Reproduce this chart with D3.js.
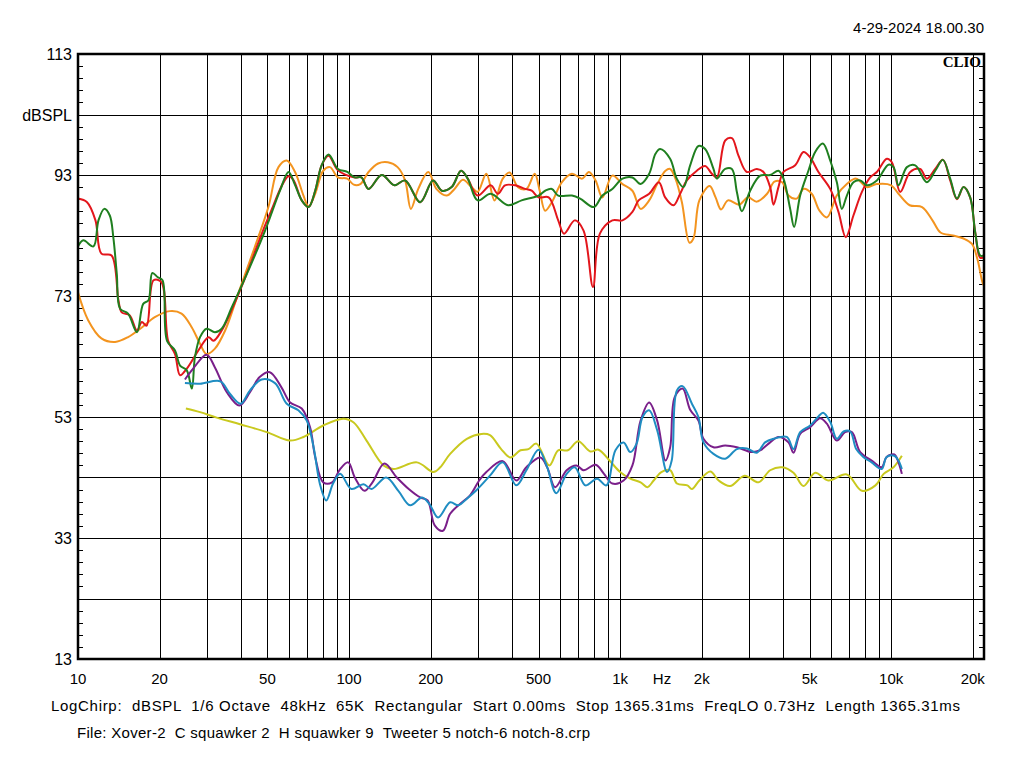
<!DOCTYPE html>
<html><head><meta charset="utf-8">
<script src="https://cdn.jsdelivr.net/npm/d3@7/dist/d3.min.js"></script>
<style>
html,body{margin:0;padding:0;background:#fff;}
svg{display:block;}
text{font-family:"Liberation Sans",Arial,sans-serif;fill:#000;}
</style></head>
<body>
<svg id="chart" width="1024" height="768"></svg>
<script>
// ---------- data ----------
const xTickValues = [10,20,50,100,200,500,1000,2000,5000,10000,20000];
const xTickLabels = ["10","20","50","100","200","500","1k","2k","5k","10k","20k"];
const yTickValues = [113,93,73,53,33,13];
const yUnitLabel = "dBSPL";
const dateText = "4-29-2024 18.00.30";
const brandText = "CLIO";
const infoLine1 = "LogChirp:  dBSPL  1/6 Octave  48kHz  65K  Rectangular  Start 0.00ms  Stop 1365.31ms  FreqLO 0.73Hz  Length 1365.31ms";
const infoLine2 = "File: Xover-2  C squawker 2  H squawker 9  Tweeter 5 notch-6 notch-8.crp";

const orangeData = [[10,73.6],[10.9,69],[12.2,66],[13.7,65.4],[15.3,66.2],[17.2,67.8],[19.2,69.5],[21.8,70.5],[24.1,70.1],[26.3,67.8],[28.2,65.1],[29.8,63.4],[32,64.3],[34.9,67.3],[39,73.4],[44.9,81.1],[50.4,87.7],[54.9,94.3],[58.9,95.4],[63.2,93.5],[67.9,89.6],[70.9,87.8],[75,89.9],[80.3,93.7],[85,94.3],[91,92.6],[98.5,92.4],[104,91.4],[110,91.5],[118,93.5],[128,94.9],[139,95.1],[151,94.3],[161,92.1],[169,87.4],[180,90.7],[196,93.5],[210,90.7],[229,89.6],[245,90.7],[263,92.2],[283,91],[298,90.2],[321,93.2],[344,88.8],[369,92.4],[391,93.4],[420,91],[451,90.7],[484,93.2],[505,90.4],[529,87.1],[560,88.5],[609,91.8],[664,93.2],[724,92.4],[767,93.5],[812,92.1],[860,89.3],[936,92.9],[1020,91.5],[1110,90.4],[1190,87.4],[1280,88.8],[1370,91.5],[1470,93.7],[1529,94],[1600,92.4],[1690,88.5],[1802,81.8],[1864,82.5],[1960,88.8],[2140,91.2],[2250,89.3],[2357,87.3],[2500,88.8],[2750,88.1],[2960,89.3],[3195,88.6],[3485,89.9],[3710,91.9],[3960,91.8],[4180,89.6],[4480,89.1],[4750,90.7],[5090,89.9],[5440,87.1],[5800,86],[6300,89.6],[6860,91.5],[7430,92.4],[8130,91],[8850,91.5],[10000,91.3],[10640,89.9],[11700,88],[13000,87.7],[14200,85.5],[15200,83.5],[16900,83],[18490,82.5],[19860,81.6],[20800,79.1],[21700,75.3],[22000,74.7]];

const redData = [[10,89.1],[10.8,88.5],[11.6,85.5],[12.2,80],[13.3,79.7],[14.1,72.3],[14.5,70.3],[15.5,69.8],[16.5,67.3],[17.2,68.7],[17.9,68.1],[19,75.6],[20.3,75.3],[21.5,65.6],[22.8,63.4],[23.8,59.9],[25.2,61],[27.8,64],[30.3,66.2],[31.6,65.6],[33.9,67.3],[40.1,74.5],[50.4,86],[59.8,92.8],[62.3,92.2],[66.9,88.8],[70.9,87.7],[75,90.4],[79.2,94.6],[84,96.2],[91,93.8],[105,92.6],[111,92.6],[118,90.7],[132,93],[147,91.3],[161,92.1],[183,88.5],[204,92.1],[220,90.4],[239,91],[259,93.7],[274,92.4],[298,89.6],[333,91.3],[354,89.9],[376,91.3],[410,91.3],[446,90.7],[472,90.4],[500,89.3],[545,89.3],[591,85.5],[621,83.3],[680,85.5],[733,83.8],[794,74.5],[842,83.3],[936,85.5],[1020,85.5],[1110,86.9],[1170,88.8],[1280,89.9],[1390,91.8],[1466,89.3],[1573,88],[1665,89.9],[1762,92.1],[1919,93.7],[2059,94.5],[2180,93.2],[2275,92.6],[2441,98.7],[2584,99.1],[2733,96.2],[2935,93.5],[3195,94],[3379,93.5],[3577,91],[3679,88.1],[3838,91],[4005,93.5],[4425,94.6],[4748,96.8],[5023,95.9],[5391,93.5],[5957,90.7],[6390,86.9],[6801,82.7],[7256,86.3],[7800,90.2],[8365,92.6],[8855,93.5],[9640,95.7],[10060,95.1],[10800,90.2],[11750,93.5],[12790,94],[13540,92.4],[14540,94],[15520,95.5],[16510,92.1],[17480,89],[18490,91],[19560,89.3],[20420,83.5],[21300,79.3],[22000,79.5]];

const greenData = [[10,81.2],[10.46,82.2],[11.4,81.2],[11.9,85.5],[12.5,87.4],[13.1,86.3],[13.5,82.7],[13.9,76.7],[14.3,70.9],[15.3,70.1],[16.5,67],[17.4,71.7],[18.2,72.3],[18.8,76.8],[19.7,76.1],[20.5,75.6],[21.3,65.6],[22.8,64],[23.8,61.5],[25.2,60.7],[26.3,57.7],[27,62.9],[28.2,66.2],[29.8,67.6],[32,67],[33.9,67.6],[36.9,71.1],[42.5,77.2],[49,83.8],[55.6,90.4],[59.8,93.5],[63,91.5],[66.9,88.8],[70.9,87.7],[75,90.4],[79.2,94.6],[84,96.4],[91,94],[98.5,93.5],[105,92.6],[111,92.6],[118,90.7],[132,93],[147,91.3],[161,92.1],[183,88.5],[204,92.1],[220,90.4],[239,91],[259,93.7],[274,92.4],[298,88.8],[333,89.9],[386,88],[433,88.8],[500,89.6],[529,90.4],[560,90.7],[591,89.6],[664,89.6],[712,89.1],[800,87.7],[860,89.6],[936,90.7],[1020,92.4],[1110,92.6],[1190,91.5],[1280,93.2],[1350,96.5],[1405,97.3],[1529,95.7],[1618,92.4],[1712,91],[1813,94.6],[1945,97.8],[2059,97.3],[2210,94],[2275,92.4],[2441,94],[2584,94],[2696,90.2],[2812,87],[3018,90.4],[3286,92.9],[3577,93],[3838,93.7],[4005,92.4],[4240,87.4],[4385,84.4],[4615,89.6],[4950,93.7],[5244,96.8],[5597,98.2],[5957,95.4],[6303,91.8],[6577,87.4],[6863,89.6],[7256,91.8],[7686,92.1],[8135,91.3],[8855,92.1],[9770,94.7],[10200,94.3],[10640,91.3],[11430,94.3],[12270,94.6],[13540,91.8],[14540,93.7],[15520,95.5],[16510,92.4],[17480,89.1],[18490,91],[19560,89.3],[20420,83.5],[21300,79.7],[22000,79.7]];

const yellowData = [[25,54.4],[28.2,53.8],[32.5,52.9],[39.6,51.8],[49.7,50.5],[60.6,49.1],[67.9,49.7],[80.3,51.6],[95.2,52.7],[104,52.1],[116,49.1],[134,45],[146,44.4],[178,45.5],[205,43.9],[217,44.7],[236,46.9],[272,49.4],[308,50.2],[331,50],[364,47.7],[394,46.3],[429,47.5],[459,47.7],[491,48.6],[548,45],[591,47.5],[641,47.5],[701,49],[776,47.3],[832,47.6],[914,45.8],[1000,43.9],[1090,42.8],[1190,42.2],[1260,41.4],[1330,42.5],[1420,43.9],[1530,44.2],[1620,42],[1770,41.7],[1840,41.1],[1960,42.5],[2150,44],[2310,42.5],[2545,41.6],[2880,43.3],[3240,42.2],[3577,44.2],[3960,44.7],[4360,43.8],[4750,41.6],[5244,43.8],[5860,42.5],[6860,43.5],[7800,40.8],[8750,41.7],[9380,43.6],[10200,44.7],[10950,46.6]];

const purpleData = [[24.8,59.2],[26.6,61],[29.8,63.3],[32,61.2],[35.4,57.1],[39.4,54.9],[43.1,57.1],[46.8,59.6],[51,60.4],[56.3,57.9],[60.6,55.4],[66.9,54.4],[71.8,51.3],[75,46.4],[80.3,42.2],[86.6,42.2],[92.7,44.4],[99.3,45.5],[105,43],[114,40.8],[122,42.2],[135,45.3],[150,43],[166,41.1],[183,39.7],[195,39.2],[207,35.1],[222,34.2],[236,37],[256,38.6],[279,40],[302,42.5],[321,43.9],[369,45.7],[414,42.5],[451,44.7],[508,46.3],[538,44.7],[576,41.4],[635,44.2],[690,45],[733,44.2],[812,45.1],[872,43.6],[936,42],[1030,42.5],[1110,45],[1190,52.4],[1280,55.4],[1370,52.4],[1470,45.8],[1530,48],[1590,56.3],[1700,57.7],[1813,54.2],[1945,52.4],[2030,49.4],[2210,48],[2441,48.3],[2696,48],[3059,47.2],[3286,47.5],[3577,48.8],[3838,49.7],[4180,48.8],[4360,47.1],[4615,50.2],[5023,51.3],[5470,52.8],[5790,51.9],[6303,49.1],[6760,50.5],[7160,50.5],[7686,47.2],[8470,45.8],[9220,44.7],[9620,46.4],[10270,46.8],[10640,45.5],[10950,43.6]];

const blueData = [[24.8,58.6],[28.2,58.5],[33.5,58.9],[36.4,56.8],[39.8,55.2],[43.1,57.4],[47.6,59.2],[53.3,58.6],[58.9,55.2],[65,54.1],[69.8,52.4],[74,48],[78.1,41.9],[82.4,39.2],[87.3,42],[92.7,43.6],[102,41.1],[113,41.9],[121,41.1],[137,43],[152,40.8],[168,38.4],[186,39.7],[198,38.6],[213,36.4],[236,38.9],[253,38.4],[272,39.5],[295,40.9],[331,43.3],[369,45.5],[414,41.7],[451,44.2],[500,47.6],[538,44.7],[581,40.4],[635,43.6],[680,44.7],[745,41.7],[822,42.8],[890,41.7],[961,47.5],[1030,48.8],[1090,47.2],[1150,48.6],[1210,53],[1280,54.1],[1370,50.8],[1490,43.9],[1550,45.8],[1620,57.4],[1700,58.1],[1840,55.2],[1945,53],[2030,48.8],[2210,46.9],[2441,46.1],[2696,47.7],[2935,47.8],[3195,47.1],[3425,48.8],[3680,49.4],[4120,49.7],[4360,47.7],[4615,50.5],[5023,51.6],[5390,53.1],[5610,53.7],[5957,52.2],[6303,49.4],[6670,50.6],[7060,50.6],[7430,47.7],[7890,46.4],[8470,45.5],[9220,44.4],[9620,46.4],[10270,46.6],[10640,45.8],[10950,44.4]];

// ---------- layout ----------
const svg = d3.select("#chart");
const L = 78, R = 984, T = 54, B = 659;
const x = d3.scaleLog().domain([10, 22000]).range([L, R]);
const y = d3.scaleLinear().domain([13, 113]).range([B, T]);

// gridlines
const vGrid = [];
for (let dec = 10; dec <= 10000; dec *= 10) {
  for (let m = 1; m <= 9; m++) {
    const f = dec * m;
    if (f > 10 && f < 22000) vGrid.push(f);
  }
}
vGrid.push(20000);
svg.append("g").selectAll("line").data(vGrid).join("line")
  .attr("x1", d => Math.round(x(d)) + 0.5).attr("x2", d => Math.round(x(d)) + 0.5)
  .attr("y1", T).attr("y2", B)
  .attr("stroke", "#000").attr("stroke-width", 1);

const hGrid = d3.range(23, 113, 10);
svg.append("g").selectAll("line").data(hGrid).join("line")
  .attr("x1", L).attr("x2", R)
  .attr("y1", d => Math.round(y(d)) + 0.5).attr("y2", d => Math.round(y(d)) + 0.5)
  .attr("stroke", "#000").attr("stroke-width", 1);

// minor ticks every 2 dB on left & right borders
const minor = d3.range(13, 113, 2).filter(d => (d - 13) % 10 !== 0);
svg.append("g").selectAll("line").data(minor).join("line")
  .attr("x1", L).attr("x2", L + 5)
  .attr("y1", d => Math.round(y(d)) + 0.5).attr("y2", d => Math.round(y(d)) + 0.5)
  .attr("stroke", "#000").attr("stroke-width", 1);
svg.append("g").selectAll("line").data(minor).join("line")
  .attr("x1", R - 5).attr("x2", R)
  .attr("y1", d => Math.round(y(d)) + 0.5).attr("y2", d => Math.round(y(d)) + 0.5)
  .attr("stroke", "#000").attr("stroke-width", 1);

// clip
svg.append("clipPath").attr("id", "clip").append("rect")
  .attr("x", L).attr("y", T).attr("width", R - L).attr("height", B - T);

const line = d3.line()
  .x(d => x(d[0])).y(d => y(d[1]))
  .curve(d3.curveCatmullRom.alpha(0.5));

const series = [
  {data: orangeData, color: "#f3941f"},
  {data: redData, color: "#e3161c"},
  {data: greenData, color: "#1f7f1f"},
  {data: yellowData, color: "#c9c91f"},
  {data: purpleData, color: "#7a1f8a"},
  {data: blueData, color: "#1f8dc2"}
];
const gLines = svg.append("g").attr("clip-path", "url(#clip)");
series.forEach(s => {
  gLines.append("path").datum(s.data)
    .attr("d", line)
    .attr("fill", "none")
    .attr("stroke", s.color)
    .attr("stroke-width", 2)
    .attr("stroke-linejoin", "round");
});

// frame
svg.append("rect").attr("x", L).attr("y", T).attr("width", R - L).attr("height", B - T)
  .attr("fill", "none").attr("stroke", "#000").attr("stroke-width", 2.5);

// y labels
svg.append("g").selectAll("text").data(yTickValues).join("text")
  .attr("x", 72).attr("y", d => y(d) + 6)
  .attr("text-anchor", "end").attr("font-size", 16)
  .text(d => d);
svg.append("text").attr("x", 72).attr("y", y(103) + 6)
  .attr("text-anchor", "end").attr("font-size", 16).text(yUnitLabel);

// x labels
svg.append("g").selectAll("text").data(xTickValues).join("text")
  .attr("x", d => x(d)).attr("y", 684)
  .attr("text-anchor", "middle").attr("font-size", 15)
  .text((d, i) => xTickLabels[i]);
svg.append("text").attr("x", 662).attr("y", 684)
  .attr("text-anchor", "middle").attr("font-size", 15).text("Hz");

// header
svg.append("text").attr("x", 984).attr("y", 33)
  .attr("text-anchor", "end").attr("font-size", 15).text(dateText);
svg.append("text").attr("x", 981).attr("y", 67)
  .attr("text-anchor", "end").attr("font-size", 15)
  .attr("font-weight", "bold")
  .style("font-family", "'Liberation Serif','Times New Roman',serif")
  .text(brandText);

// info lines
svg.append("text").attr("x", 51).attr("y", 711).attr("font-size", 15)
  .style("white-space", "pre").attr("textLength", 909).attr("lengthAdjust", "spacing")
  .text(infoLine1);
svg.append("text").attr("x", 77).attr("y", 738).attr("font-size", 15)
  .style("white-space", "pre").attr("textLength", 513).attr("lengthAdjust", "spacing")
  .text(infoLine2);
</script>
</body></html>
